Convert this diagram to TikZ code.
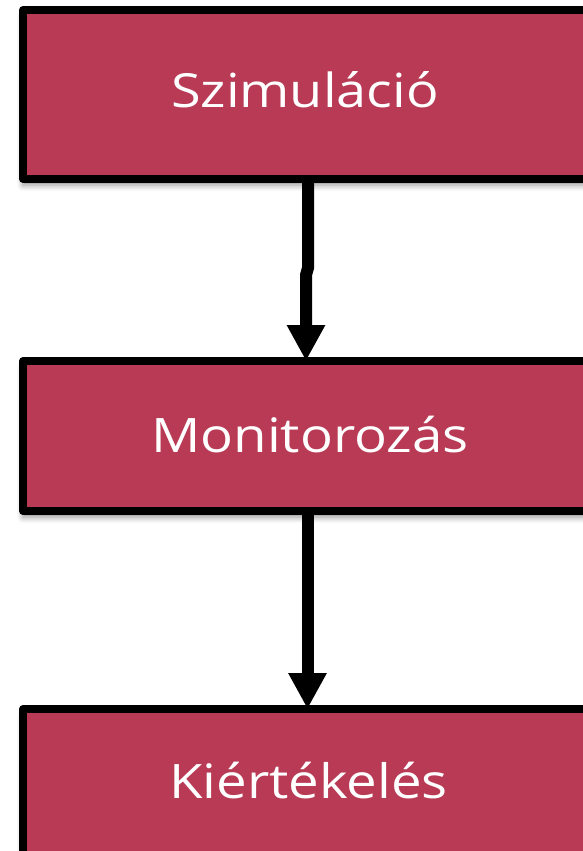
\documentclass[tikz,border=0pt]{standalone}
\usepackage{fontspec}
\setmainfont[FakeStretch=1.15]{Open Sans}
\usetikzlibrary{arrows.meta,shadows.blur}
\definecolor{stagefill}{RGB}{184,58,84}
\tikzset{
  stagebox/.style={draw=black, line width=8pt, line join=round, fill=stagefill,
    inner sep=0pt, outer sep=0pt,
    blur shadow={shadow xshift=0pt, shadow yshift=-6pt, shadow blur radius=6pt, shadow opacity=45}},
  stagelabel/.style={anchor=base, text=white, inner sep=0pt, font=\fontsize{47.5}{57}\selectfont},
  conn/.style={line width=12pt, -{Triangle[width=36pt,length=36pt]}}
}
\begin{document}
\begin{tikzpicture}[x=1pt,y=-1pt]
  \useasboundingbox (0,0) rectangle (583,851);
  % process stages
  \node[stagebox, minimum width=564pt, minimum height=169pt] (sim) at (305,94.5) {};
  \node[stagebox, minimum width=564pt, minimum height=150pt] (mon) at (305,436) {};
  \node[stagebox, minimum width=564pt, minimum height=150pt] (kie) at (305,784) {};
  % stage titles
  \node[stagelabel, font=\fontsize{47}{56}\selectfont] (simt) at (305,107) {Szimuláció};
  \node[stagelabel] (mont) at (310,452) {Monitorozás};
  \node[stagelabel] (kiet) at (308.5,798) {Kiértékelés};
  % connectors
  \coordinate (j1) at (308,268);
  \coordinate (j2) at (306,275);
  \draw[conn] (sim.south -| j1) -- (j1) -- (j2) -- (mon.north -| j2);
  \coordinate (j3) at (307.5,600);
  \draw[conn] (mon.south -| j3) -- (kie.north -| j3);
\end{tikzpicture}
\end{document}
